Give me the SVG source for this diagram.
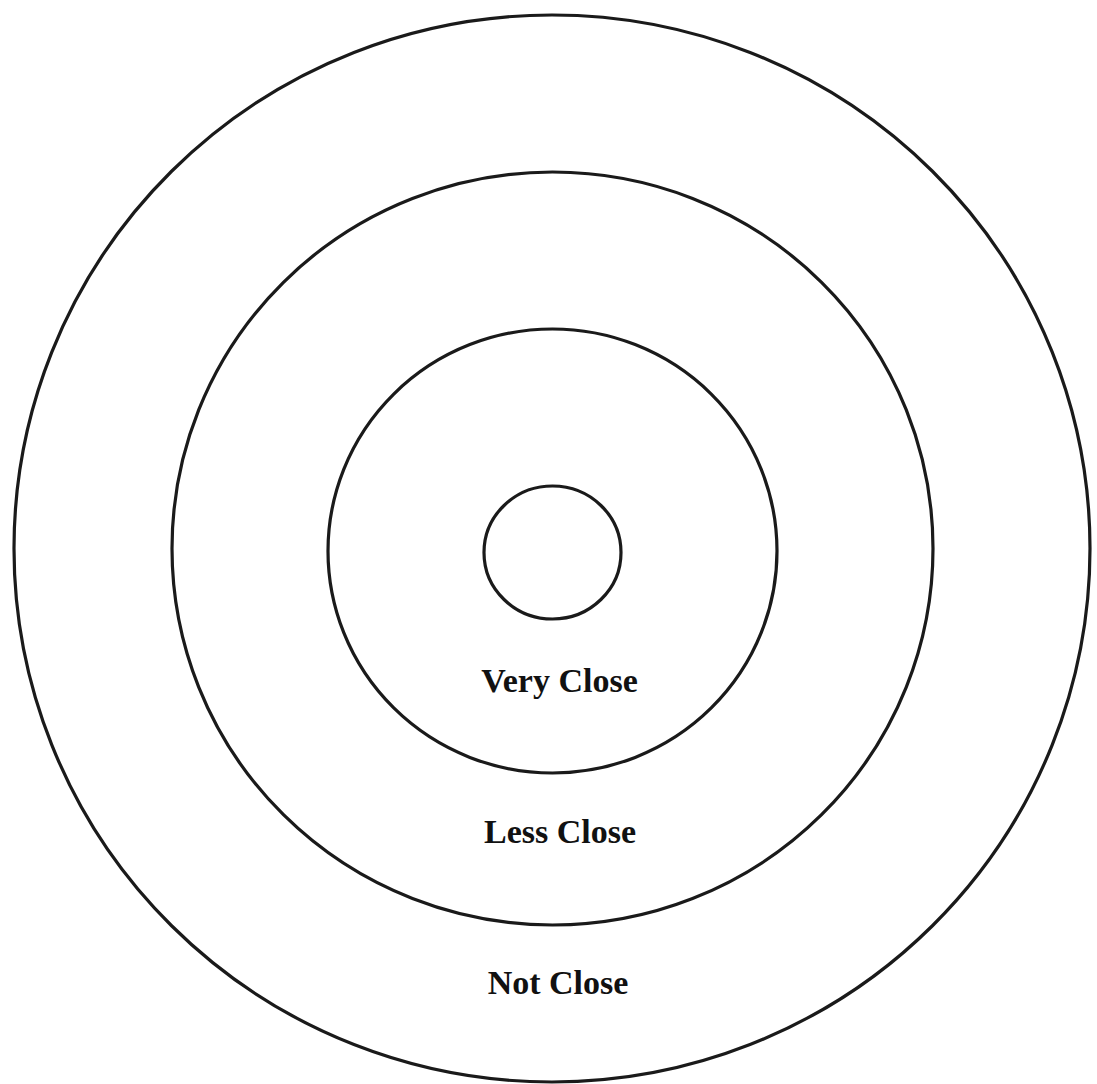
<svg xmlns="http://www.w3.org/2000/svg" width="1097" height="1084" viewBox="0 0 1097 1084">
<style>
.ring{fill:none;stroke:#1a1a1a;stroke-width:3.2}
.lbl{font-family:"Liberation Serif","Times New Roman",serif;font-weight:bold;font-size:34px;fill:#111;text-anchor:middle}
</style>
<rect width="1097" height="1084" fill="#ffffff"/>
<g id="ring-not-close"><ellipse class="ring" cx="552" cy="548.5" rx="538" ry="533.5"/></g>
<g id="ring-less-close"><ellipse class="ring" cx="552.5" cy="548.5" rx="380.5" ry="376.5"/></g>
<g id="ring-very-close"><ellipse class="ring" cx="552.5" cy="551" rx="224.5" ry="222"/></g>
<g id="ring-center"><ellipse class="ring" cx="552.5" cy="552.5" rx="68.5" ry="66.5"/></g>
<g id="labels">
<text class="lbl" x="559.5" y="692">Very Close</text>
<text class="lbl" x="560" y="843">Less Close</text>
<text class="lbl" x="558" y="994">Not Close</text>
</g>
</svg>
